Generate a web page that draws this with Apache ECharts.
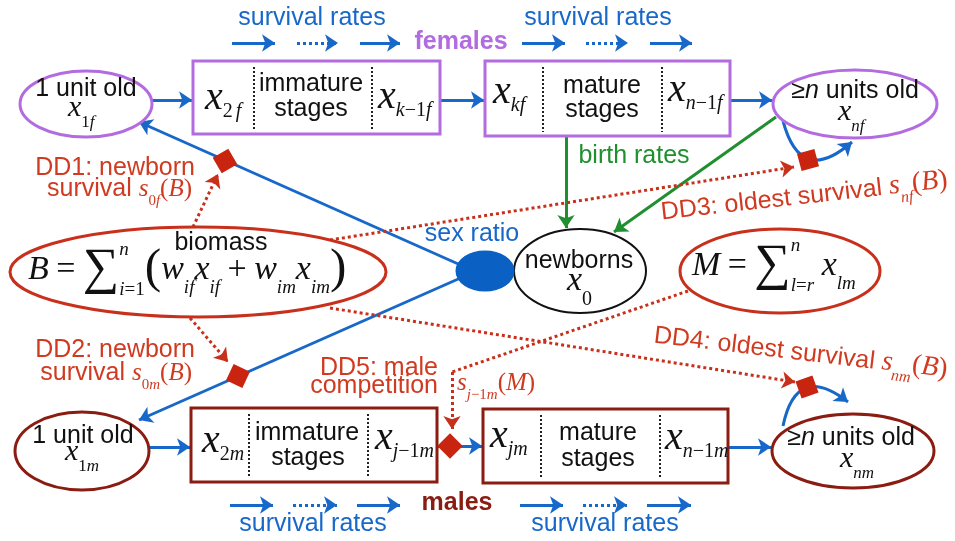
<!DOCTYPE html>
<html>
<head>
<meta charset="utf-8">
<script src="https://cdn.jsdelivr.net/npm/echarts@6/dist/echarts.min.js"></script>
<style>
  html, body { margin: 0; padding: 0; background: #fff; }
  #chart { width: 955px; height: 541px; }
</style>
</head>
<body>
<div id="chart"></div>
<script>
// ---- diagram data (picture pixel space, y downwards) ----
// ellipse nodes: [cx, cy, rx, ry]
const ellipseNames = ['female1', 'femaleN', 'male1', 'maleN', 'newborns', 'biomass', 'maleComp', 'sexRatio'];
const ellipseShapes = [
    [86, 104, 66, 33],
    [855, 104, 82, 34],
    [82, 451, 67, 39],
    [853, 451, 81, 37],
    [580, 271, 66, 42],
    [198, 272, 188, 45],
    [780, 271, 100, 42],
    [485, 271, 28, 19]
];
// stage boxes: [x0, y0, x1, y1, divider1, divider2]
const boxNames = ['femaleImmature', 'femaleMature', 'maleImmature', 'maleMature'];
const boxShapes = [
    [193, 61, 440, 134, 254, 372],
    [485, 61, 730, 136, 543, 662],
    [191, 408, 437, 482, 249, 368],
    [483, 409, 728, 483, 541, 660]
];
// arrows: [[x0, y0], [x1, y1]]
const blueArrows = [
    [[152, 100], [192, 100]], [[440, 100], [484, 100]], [[730, 100], [772, 100]],
    [[149, 447], [190, 447]], [[437, 446], [482, 446]], [[728, 447], [771, 447]],
    [[465, 267], [139, 122]], [[465, 276], [139, 420]],
    [[232, 43], [275, 43]], [[360, 43], [400, 43]], [[522, 43], [565, 43]], [[650, 43], [692, 43]],
    [[230, 505], [273, 505]], [[357, 505], [400, 505]], [[520, 505], [563, 505]], [[647, 505], [691, 505]]
];
const blueDottedArrows = [
    [[297, 43], [338, 43]], [[586, 43], [628, 43]],
    [[293, 505], [337, 505]], [[583, 505], [627, 505]]
];
// curved survival of the oldest class: [from, to, curveness]
const oldestLoops = [
    [[783, 121], [852, 142], -0.8],
    [[783, 426], [848, 402], 0.8]
];
const birthArrows = [
    [[566, 136], [566, 228]],
    [[776, 117], [614, 232]]
];
const ddArrows = [
    [[193, 227], [218, 174]],
    [[190, 318], [228, 362]],
    [[330, 240], [794, 167]],
    [[330, 308], [795, 382]],
    [[452, 372], [452, 429]]
];
const ddPlain = [
    [[688, 291], [452, 372]]
];
// density dependence markers: [x, y, rotation]
const ddMarkers = [
    [225, 161, 30],
    [238, 376, -25],
    [808, 160, 15],
    [807, 387, 20],
    [450, 446, 45]
];
// texts; $..$ = math, %..% = italic
const labelTexts = [
    'survival rates', 'survival rates', 'females',
    '1 unit old', '$x_{1f}$',
    '$x_{2 f}$', 'immature', 'stages', '$x_{k−1f}$',
    '$x_{kf}$', 'mature', 'stages', '$x_{n−1f}$',
    '≥%n% units old', '$x_{nf}$',
    'birth rates', 'sex ratio', 'newborns', '$x_{0}$',
    'biomass', '$B = ∑_{i=1}^{n}[w_{if}x_{if} + w_{im}x_{im}]$', '$M = ∑_{l=r}^{n} x_{lm}$',
    'DD1: newborn', 'survival $s_{0f}(B)$', 'DD2: newborn', 'survival $s_{0m}(B)$',
    'DD3: oldest survival $s_{nf}(B)$', 'DD4: oldest survival $s_{nm}(B)$',
    'DD5: male', 'competition', '$s_{j−1m}(M)$',
    '1 unit old', '$x_{1m}$',
    '$x_{2m}$', 'immature', 'stages', '$x_{j−1m}$',
    '$x_{jm}$', 'mature', 'stages', '$x_{n−1m}$',
    '≥%n% units old', '$x_{nm}$',
    'males', 'survival rates', 'survival rates'
];
// [x, baseline, align, rotation deg, style]
const labelLayout = [
    [312, 27, 'center', 0, 'rate'], [598, 27, 'center', 0, 'rate'], [461, 51, 'center', 0, 'females'],
    [86, 98, 'center', 0, 'node'], [68, 118, 'left', 0, 'node'],
    [205, 112, 'left', 0, 'box'], [311, 93, 'center', 0, 'box'], [311, 118, 'center', 0, 'box'], [378, 111, 'left', 0, 'box'],
    [493, 106, 'left', 0, 'box'], [602, 95, 'center', 0, 'box'], [602, 119, 'center', 0, 'box'], [668, 104, 'left', 0, 'box'],
    [855, 100, 'center', 0, 'node'], [838, 122, 'left', 0, 'node'],
    [634, 165, 'center', 0, 'birth'], [472, 243, 'center', 0, 'ratio'], [579, 270, 'center', 0, 'node'], [567, 293, 'left', 0, 'newborn'],
    [221, 252, 'center', 0, 'node'], [28, 282, 'left', 0, 'formula'], [692, 278, 'left', 0, 'formula'],
    [195, 177, 'right', 0, 'dd'], [192, 198, 'right', 0, 'dd'], [195, 359, 'right', 0, 'dd'], [192, 382, 'right', 0, 'dd'],
    [662, 221, 'left', 6.3, 'ddRot'], [653, 344, 'left', -6.8, 'ddRot'],
    [438, 377, 'right', 0, 'dd'], [438, 395, 'right', 0, 'dd'], [457, 392, 'left', 0, 'dd'],
    [83, 445, 'center', 0, 'node'], [65, 462, 'left', 0, 'node'],
    [202, 455, 'left', 0, 'box'], [307, 442, 'center', 0, 'box'], [308, 467, 'center', 0, 'box'], [375, 452, 'left', 0, 'box'],
    [490, 450, 'left', 0, 'box'], [598, 442, 'center', 0, 'box'], [598, 468, 'center', 0, 'box'], [665, 452, 'left', 0, 'box'],
    [851, 447, 'center', 0, 'node'], [840, 469, 'left', 0, 'node'],
    [457, 512, 'center', 0, 'males'], [313, 533, 'center', 0, 'rate'], [605, 533, 'center', 0, 'rate']
];

// ---- styles ----
const PURPLE = '#b36ce0', BLUE = '#1768c9', GREEN = '#1f8f2f', RED = '#c9301c',
    RED_TEXT = '#d03a20', DARK_RED = '#8a1c12', BLACK = '#111';
const SANS = '"Helvetica Neue", Helvetica, Arial, "Liberation Sans", sans-serif';
const SERIF = '"Times New Roman", "Liberation Serif", serif';
const ellipseStroke = {
    female1: PURPLE, femaleN: PURPLE, male1: DARK_RED, maleN: DARK_RED,
    newborns: BLACK, biomass: RED, maleComp: RED, sexRatio: '#0b60c4'
};
const boxStroke = {femaleImmature: PURPLE, femaleMature: PURPLE, maleImmature: DARK_RED, maleMature: DARK_RED};
const textStyles = {
    rate: {color: BLUE, size: 25},
    females: {color: PURPLE, size: 25, weight: 'bold'},
    males: {color: DARK_RED, size: 25, weight: 'bold'},
    node: {color: BLACK, size: 25, math: {base: 30, sub: 17, drop: 0.36, space: 0.2}},
    box: {color: BLACK, size: 25, math: {base: 40, sub: 20, drop: 0.16, space: 0.2}},
    newborn: {color: BLACK, size: 25, math: {base: 34, sub: 20, drop: 0.4, space: 0.2}},
    formula: {color: BLACK, size: 25, math: {base: 34, sub: 19, drop: 0.36, space: 0.22}},
    birth: {color: GREEN, size: 25},
    ratio: {color: BLUE, size: 25},
    dd: {color: RED_TEXT, size: 25, math: {base: 25, sub: 15, drop: 0.32, space: 0.2}},
    ddRot: {color: RED_TEXT, size: 25, math: {base: 28, sub: 16, drop: 0.32, space: 0.2}}
};

// ---- text layout helpers ----
const mctx = document.createElement('canvas').getContext('2d');
function measure(t, font) {
    mctx.font = font;
    return mctx.measureText(t).width;
}
function parseMath(src) {
    const out = [];
    let i = 0;
    while (i < src.length) {
        const ch = src[i];
        if ((ch === '_' || ch === '^') && src[i + 1] === '{') {
            const end = src.indexOf('}', i);
            out.push({t: src.slice(i + 2, end), lvl: ch === '_' ? -1 : 1});
            i = end + 1;
        } else {
            out.push({t: ch, lvl: 0});
            i++;
        }
    }
    return out;
}
function isLetter(ch) {
    return /[A-Za-z]/.test(ch);
}
function layoutMath(src, m, x, pieces) {
    let prevBase = '', scriptStart = 0, scriptW = 0, lastScript = false;
    parseMath(src).forEach((it) => {
        if (it.lvl === 0) {
            if (lastScript) {
                x = scriptStart + scriptW;
                lastScript = false;
            }
            let ch = it.t, size = m.base, dy = 0;
            if (ch === ' ') {
                x += m.base * m.space;
                return;
            }
            if (ch === '∑') {
                size = m.base * 1.5;
                dy = m.base * 0.15;
            }
            if (ch === '[' || ch === ']') {
                size = m.base * 1.45;
                ch = ch === '[' ? '(' : ')';
                dy = m.base * 0.12;
            }
            const font = (isLetter(ch) ? 'italic ' : '') + size + 'px ' + SERIF;
            pieces.push({t: ch, font: font, x: x, dy: dy, size: size});
            x += measure(ch, font);
            prevBase = ch;
        } else {
            const start = lastScript ? scriptStart : x;
            const limits = prevBase === '∑';
            const dy = it.lvl < 0 ? m.base * (limits ? 0.42 : m.drop) : -m.base * (limits ? 0.75 : 0.4);
            let cx = start;
            for (const ch of it.t) {
                if (ch === ' ') {
                    cx += m.sub * 0.15;
                    continue;
                }
                const font = (isLetter(ch) ? 'italic ' : '') + m.sub + 'px ' + SERIF;
                pieces.push({t: ch, font: font, x: cx, dy: dy, size: m.sub});
                cx += measure(ch, font);
            }
            scriptW = lastScript ? Math.max(scriptW, cx - start) : cx - start;
            scriptStart = start;
            lastScript = true;
        }
    });
    if (lastScript) {
        x = scriptStart + scriptW;
    }
    return x;
}
function layoutRuns(str, st) {
    const pieces = [];
    let x = 0;
    str.split(/(\$[^$]*\$|%[^%]*%)/).filter((s) => s.length).forEach((p) => {
        if (p[0] === '$') {
            x = layoutMath(p.slice(1, -1), st.math, x, pieces);
        } else {
            const italic = p[0] === '%';
            const t = italic ? p.slice(1, -1) : p;
            const font = (italic ? 'italic ' : '') + (st.weight || 'normal') + ' ' + st.size + 'px ' + SANS;
            pieces.push({t: t, font: font, x: x, dy: 0, size: st.size});
            x += measure(t, font);
        }
    });
    return {pieces: pieces, width: x};
}

// ---- chart ----
const chart = echarts.init(document.getElementById('chart'));
const lineSeries = (data, color, type, withArrow, z) => ({
    type: 'lines',
    coordinateSystem: 'cartesian2d',
    silent: true,
    z: z,
    symbol: withArrow ? ['none', 'arrow'] : ['none', 'none'],
    symbolSize: 13,
    lineStyle: {color: color, width: 3, type: type, opacity: 1},
    data: data.map((c) => ({coords: [c[0], c[1]], lineStyle: {curveness: c[2] || 0}}))
});

chart.setOption({
    animation: false,
    grid: {left: 0, right: 0, top: 0, bottom: 0},
    xAxis: {type: 'value', min: 0, max: 955, show: false},
    yAxis: {type: 'value', min: 0, max: 541, inverse: true, show: false},
    series: [
        lineSeries(blueArrows, BLUE, 'solid', true, 2),
        lineSeries(blueDottedArrows, BLUE, [3, 3], true, 2),
        lineSeries(oldestLoops, BLUE, 'solid', true, 2),
        lineSeries(birthArrows, GREEN, 'solid', true, 2),
        lineSeries(ddArrows, RED, [3, 3], true, 2),
        lineSeries(ddPlain, RED, [3, 3], false, 2),
        {
            type: 'custom',
            coordinateSystem: 'cartesian2d',
            silent: true,
            z: 3,
            data: ellipseShapes.map((e, i) => [e[0], e[1], e[2], e[3], i]),
            renderItem: function (params, api) {
                const c = api.coord([api.value(0), api.value(1)]);
                const s = api.size([api.value(2), api.value(3)]);
                const name = ellipseNames[api.value(4)];
                const filled = name === 'sexRatio';
                return {
                    type: 'ellipse',
                    shape: {cx: c[0], cy: c[1], rx: Math.abs(s[0]), ry: Math.abs(s[1])},
                    style: {
                        fill: filled ? ellipseStroke[name] : '#fff',
                        stroke: ellipseStroke[name],
                        lineWidth: name === 'newborns' ? 2 : 3
                    }
                };
            }
        },
        {
            type: 'custom',
            coordinateSystem: 'cartesian2d',
            silent: true,
            z: 3,
            data: boxShapes.map((b, i) => [b[0], b[1], b[2], b[3], b[4], b[5], i]),
            renderItem: function (params, api) {
                const p0 = api.coord([api.value(0), api.value(1)]);
                const p1 = api.coord([api.value(2), api.value(3)]);
                const d1 = api.coord([api.value(4), api.value(1)])[0];
                const d2 = api.coord([api.value(5), api.value(1)])[0];
                const color = boxStroke[boxNames[api.value(6)]];
                const divider = (x) => ({
                    type: 'line',
                    shape: {x1: x, y1: p0[1] + 6, x2: x, y2: p1[1] - 4},
                    style: {stroke: '#222', lineWidth: 2, lineDash: [2, 2]}
                });
                return {
                    type: 'group',
                    children: [
                        {
                            type: 'rect',
                            shape: {x: p0[0], y: p0[1], width: p1[0] - p0[0], height: p1[1] - p0[1]},
                            style: {fill: '#fff', stroke: color, lineWidth: 3}
                        },
                        divider(d1),
                        divider(d2)
                    ]
                };
            }
        },
        {
            type: 'scatter',
            silent: true,
            z: 4,
            symbol: 'rect',
            symbolSize: 18,
            itemStyle: {color: '#c8240f', opacity: 1},
            data: ddMarkers.map((d) => ({value: [d[0], d[1]], symbolRotate: d[2]}))
        },
        {
            type: 'custom',
            coordinateSystem: 'cartesian2d',
            silent: true,
            z: 5,
            data: labelLayout.map((l, i) => [l[0], l[1], i]),
            renderItem: function (params, api) {
                const idx = api.value(2);
                const lay = labelLayout[idx];
                const st = textStyles[lay[4]];
                const runs = layoutRuns(labelTexts[idx], st);
                const p = api.coord([api.value(0), api.value(1)]);
                const shift = lay[2] === 'center' ? -runs.width / 2 : (lay[2] === 'right' ? -runs.width : 0);
                return {
                    type: 'group',
                    x: p[0],
                    y: p[1],
                    rotation: lay[3] * Math.PI / 180,
                    children: runs.pieces.map((pc) => ({
                        type: 'text',
                        style: {
                            text: pc.t,
                            x: pc.x + shift,
                            y: pc.dy - 0.34 * pc.size,
                            font: pc.font,
                            fill: st.color,
                            align: 'left',
                            verticalAlign: 'middle'
                        }
                    }))
                };
            }
        }
    ]
});
</script>
</body>
</html>
